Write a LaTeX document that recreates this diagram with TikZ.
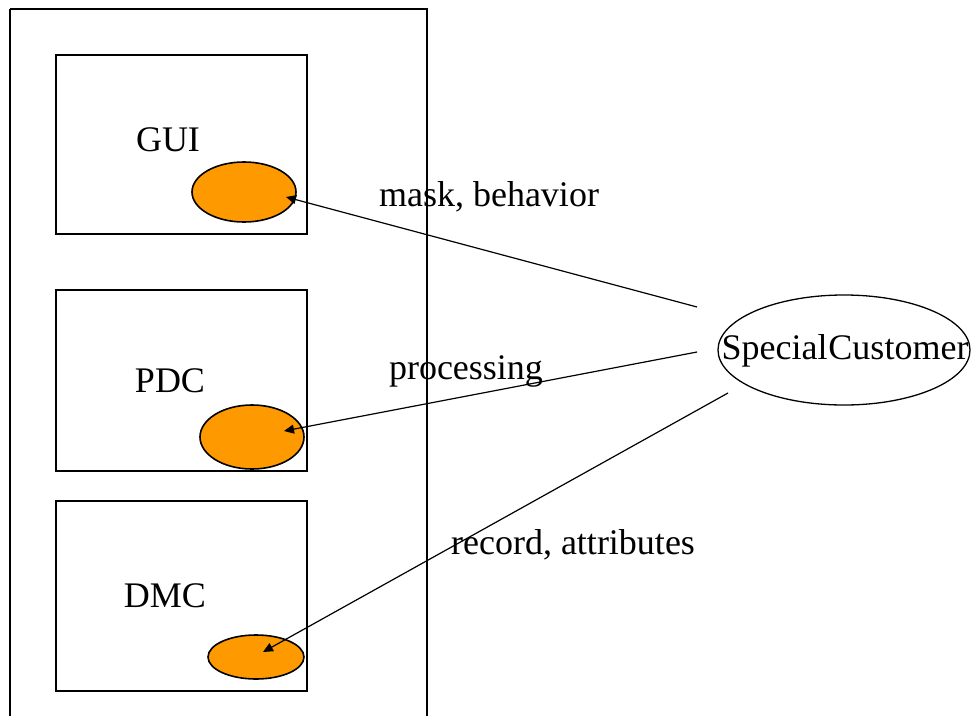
\documentclass[tikz,border=0pt]{standalone}
\usepackage{fontspec}
\setmainfont{Liberation Serif}
\usetikzlibrary{arrows.meta,shapes.geometric}
\definecolor{compfill}{HTML}{FF9900}
\begin{document}
\begin{tikzpicture}[x=1pt,y=-1pt,
  every node/.style={font=\fontsize{36}{40}\selectfont},
  frame/.style={draw=black,line width=2pt},
  part/.style={draw=black,line width=1.9pt,rectangle,anchor=north west,inner sep=0pt},
  blob/.style={draw=black,line width=1.6pt,fill=compfill,ellipse,inner sep=0pt},
  link/.style={draw=black,line width=1.2pt,-{Triangle[length=10pt,width=9pt]}},
  lbl/.style={inner sep=0pt}]
\useasboundingbox (0,0) rectangle (972,715);
% package frame (continues past the lower edge)
\draw[frame] (10,9) -- (427,9) -- (427,740) (10,9) -- (10,740);
% subsystem boxes
\node[part,minimum width=251pt,minimum height=179pt] (guibox) at (55,54) {};
\node[part,minimum width=251pt,minimum height=181pt] (pdcbox) at (55,289) {};
\node[part,minimum width=251pt,minimum height=190pt] (dmcbox) at (55,500) {};
\node[lbl] (guilbl) at (168,140) {GUI};
\node[lbl] (pdclbl) at (170,381) {PDC};
\node[lbl] (dmclbl) at (165,596) {DMC};
% components inside the subsystems
\node[blob,minimum width=104pt,minimum height=60pt] (gui) at (244,192) {};
\node[blob,minimum width=104pt,minimum height=64pt] (pdc) at (252,437) {};
\node[blob,minimum width=96pt,minimum height=44pt] (dmc) at (256,657) {};
% the actor
\node[draw=black,line width=1.3pt,ellipse,inner sep=0pt,
      minimum width=252pt,minimum height=110pt] (sc) at (844,350) {};
\node[lbl] (sclbl) at (845,351) {Special\hspace{1pt}Customer};
% connector end points
\coordinate (gui-in) at (286,197);
\coordinate (pdc-in) at (284,431);
\coordinate (dmc-in) at (263,652);
\coordinate (sc-a) at (697,307);
\coordinate (sc-b) at (697,352);
\coordinate (sc-c) at (728,393);
% connectors
\draw[link] (sc-a) -- (gui-in);
\draw[link] (sc-b) -- (pdc-in);
\draw[link] (sc-c) -- (dmc-in);
% connector labels
\node[lbl] (l1) at (489,197) {mask, behavior};
\node[lbl] (l2) at (466,371) {processing};
\node[lbl] (l3) at (573,545) {record, attributes};
\end{tikzpicture}
\end{document}
